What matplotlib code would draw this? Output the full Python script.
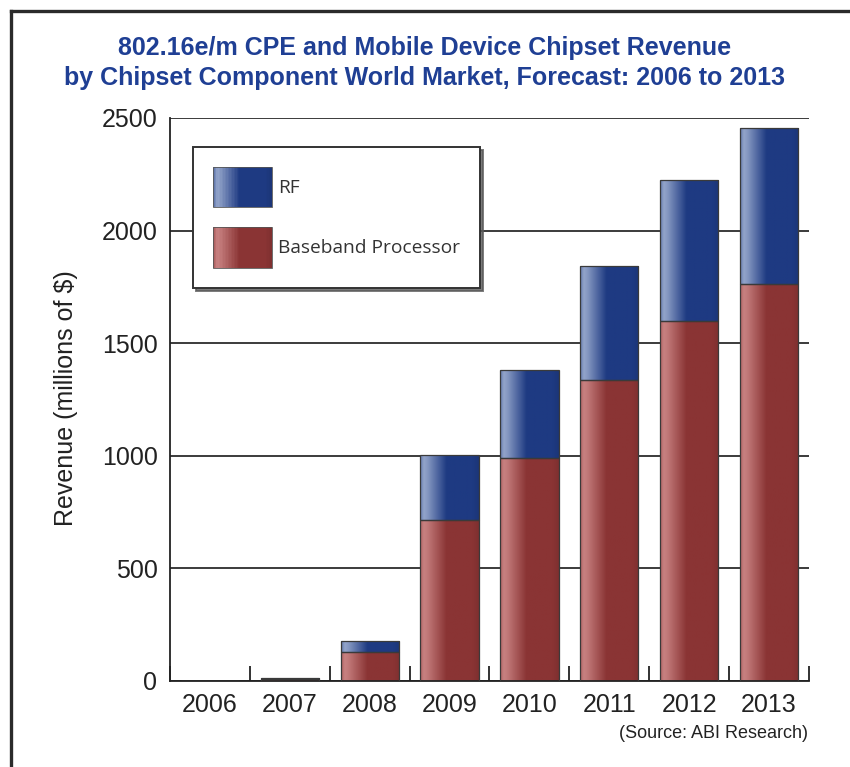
import numpy as np
import matplotlib
matplotlib.use("Agg")
import matplotlib.pyplot as plt
from matplotlib.patches import Rectangle
from matplotlib.legend_handler import HandlerPatch
from matplotlib.lines import Line2D
from matplotlib.colors import to_rgb

years = ["2006", "2007", "2008", "2009", "2010", "2011", "2012", "2013"]
baseband = [0, 8, 128, 715, 990, 1335, 1598, 1762]
rf = [0, 4, 50, 290, 390, 508, 627, 694]
yticks = [0, 500, 1000, 1500, 2000, 2500]
series_names = ["RF", "Baseband Processor"]

title = "802.16e/m CPE and Mobile Device Chipset Revenue\nby Chipset Component World Market, Forecast: 2006 to 2013"
ylabel = "Revenue (millions of $)"
source = "(Source: ABI Research)"

RF_DARK, RF_LIGHT = "#1e3a82", "#a0b0d2"
BB_DARK, BB_LIGHT = "#8a3434", "#cf8a8a"

def gradient_colors(dark, light, n=64):
    d = np.array(to_rgb(dark)); l = np.array(to_rgb(light))
    t = np.linspace(0, 1, n)
    prof = np.interp(t, [0, 0.06, 0.12, 0.45, 0.9, 1.0], [0.55, 0.9, 0.8, 0.0, 0.0, -0.08])
    cols = []
    for p in prof:
        if p >= 0:
            cols.append(d + (l - d) * p)
        else:
            cols.append(d * (1 + p))
    return np.clip(np.array(cols), 0, 1)

plt.rcParams['font.family'] = ['Liberation Sans', 'DejaVu Sans']

fig = plt.figure(figsize=(8.5, 7.67), dpi=100)
ax = fig.add_axes([170/850, 1 - 681/767, 639/850, (681-118)/767])

x = np.arange(len(years))
width = 0.73

def gradient_bars(bottoms, heights, dark, light):
    bars = ax.bar(x, heights, width, bottom=bottoms, color=dark, edgecolor="none", zorder=2)
    grad = gradient_colors(dark, light)[np.newaxis, :, :]
    for b in bars:
        if b.get_height() <= 0:
            continue
        im = ax.imshow(grad, extent=[b.get_x(), b.get_x() + b.get_width(), b.get_y(), b.get_y() + b.get_height()],
                       aspect="auto", interpolation="bilinear", zorder=2.5)
        im.set_clip_path(b)
    ax.bar(x, heights, width, bottom=bottoms, fill=False, edgecolor="#3a3a3a", linewidth=0.9, zorder=3)
    return bars

gradient_bars(np.zeros(len(years)), baseband, BB_DARK, BB_LIGHT)
gradient_bars(np.array(baseband), rf, RF_DARK, RF_LIGHT)

ax.set_xlim(-0.5, len(years) - 0.5)
ax.set_ylim(0, 2500)
ax.set_yticks(yticks)
ax.set_xticks(x)
ax.set_xticklabels(years)
ax.set_xticks(np.arange(-0.5, len(years)), minor=True)
ax.tick_params(axis="x", which="major", length=0, pad=9, labelsize=18, labelcolor="#222222")
ax.tick_params(axis="x", which="minor", direction="in", length=10.5, width=1.3, color="#222222")
ax.tick_params(axis="y", which="major", length=0, pad=9, labelsize=18, labelcolor="#222222")
ax.yaxis.grid(True, color="#1a1a1a", linewidth=1.2, zorder=0)
ax.set_axisbelow(True)
for s in ["top", "right"]:
    ax.spines[s].set_visible(False)
for s in ["left", "bottom"]:
    ax.spines[s].set_linewidth(1.3)
    ax.spines[s].set_color("#222222")

class GradientHandler(HandlerPatch):
    def __init__(self, dark, light):
        super().__init__()
        self.dark, self.light = dark, light
    def create_artists(self, legend, orig_handle, xdescent, ydescent, width, height, fontsize, trans):
        cols = gradient_colors(self.dark, self.light, 40)
        arts = []
        n = len(cols)
        for i, c in enumerate(cols):
            r = Rectangle((-xdescent + width * i / n, -ydescent), width / n + 0.3, height,
                          facecolor=c, edgecolor="none", transform=trans)
            arts.append(r)
        arts.append(Rectangle((-xdescent, -ydescent), width, height, fill=False,
                              edgecolor="#555555", linewidth=0.6, transform=trans))
        return arts

h_rf = Rectangle((0, 0), 1, 1, color=RF_DARK)
h_bb = Rectangle((0, 0), 1, 1, color=BB_DARK)
leg = ax.legend([h_rf, h_bb], series_names, loc="upper left",
                bbox_to_anchor=((193-170)/639, 1 - (147-118)/563),
                handler_map={h_rf: GradientHandler(RF_DARK, RF_LIGHT), h_bb: GradientHandler(BB_DARK, BB_LIGHT)},
                prop={"family": ["Open Sans", "DejaVu Sans"], "size": 13.8},
                handlelength=3.05, handleheight=2.85, labelspacing=1.05, borderpad=1.05,
                handletextpad=0.35, borderaxespad=0, fancybox=False, frameon=True,
                shadow={"color": "0.35", "alpha": 0.8})
leg.get_frame().set_edgecolor("#333333")
leg.get_frame().set_linewidth(1.4)
leg.set_zorder(5)
for t in leg.get_texts():
    t.set_color("#333333")

fig.text(425/850, 1 - 63/767, title, ha="center", va="center", fontsize=18, fontweight="bold",
         color="#1f3f94", linespacing=1.27)
fig.text(66/850, 1 - 398/767, ylabel, ha="center", va="center", rotation=90, fontsize=18, color="#222222")
fig.text(808/850, 1 - 733/767, source, ha="right", va="center", fontsize=13, color="#222222")

# figure border (top and left visible)
fig.add_artist(Line2D([11/850, 1.0], [1 - 11/767, 1 - 11/767], transform=fig.transFigure, color="#2b2b2b", linewidth=2.4))
fig.add_artist(Line2D([11/850, 11/850], [1 - 11/767, 0.0], transform=fig.transFigure, color="#2b2b2b", linewidth=2.4))

fig.savefig("out.png", dpi=100)
